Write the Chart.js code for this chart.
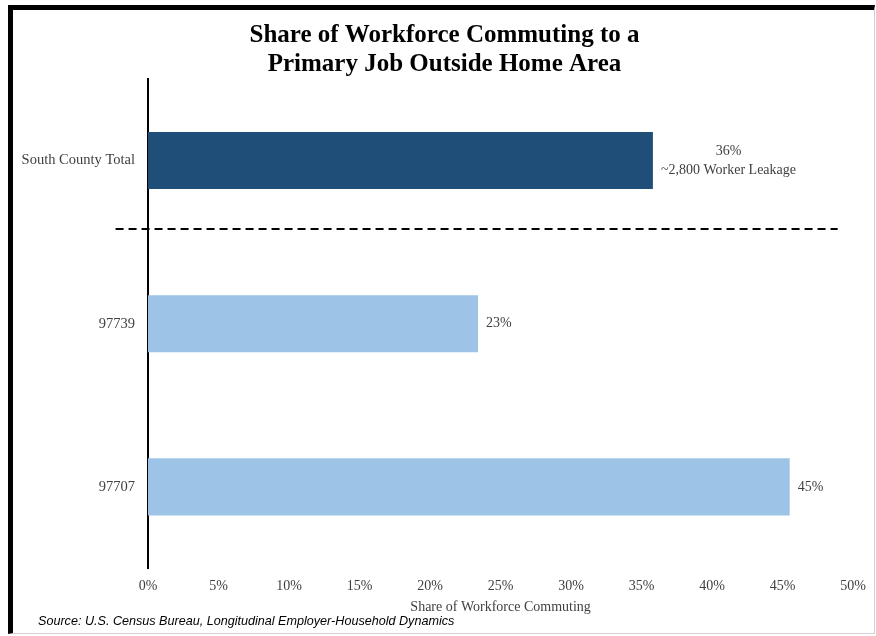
<!DOCTYPE html>
<html>
<head>
<meta charset="utf-8">
<script src="https://cdn.jsdelivr.net/npm/chart.js@4.4.0/dist/chart.umd.min.js"></script>
<style>
  html, body { margin: 0; padding: 0; background: #fff; }
  #wrap { position: relative; width: 876px; height: 636px; overflow: hidden; }
  #frame {
    position: absolute; left: 8px; top: 5px; width: 861px; height: 623px;
    border-top: 5px solid #000; border-left: 5px solid #000;
    border-right: 1px solid #d0d0d0; border-bottom: 1px solid #d0d0d0;
  }
  #chart { position: absolute; left: 0; top: 0; }
  #source {
    position: absolute; left: 38px; top: 614px;
    font: italic 12.6px "Liberation Sans", Arial, sans-serif; color: #000;
  }
</style>
</head>
<body>
<div id="wrap">
  <div id="frame"></div>
  <canvas id="chart" width="876" height="636"></canvas>
  <div id="source">Source: U.S. Census Bureau, Longitudinal Employer-Household Dynamics</div>
</div>
<script>
const categories = ['South County Total', '97739', '97707'];
const shares = [35.8, 23.4, 45.5];
const barLabels = [['36%', '~2,800 Worker Leakage'], ['23%'], ['45%']];
const barColors = ['#1F4E79', '#9DC3E6', '#9DC3E6'];
const dividerAt = 0.42; // category-index position of the dashed divider

const serif = '"Liberation Serif", "Times New Roman", serif';

const barLabelPlugin = {
  id: 'barLabels',
  afterDatasetsDraw(chart) {
    const ctx = chart.ctx;
    const meta = chart.getDatasetMeta(0);
    ctx.save();
    ctx.font = '14px ' + serif;
    ctx.fillStyle = '#404040';
    ctx.textBaseline = 'middle';
    meta.data.forEach((bar, i) => {
      const lines = barLabels[i];
      const w = Math.max(...lines.map(l => ctx.measureText(l).width));
      const cx = bar.x + 8 + w / 2;
      const lh = 19;
      const y0 = bar.y - (lines.length - 1) * lh / 2;
      ctx.textAlign = 'center';
      lines.forEach((l, j) => ctx.fillText(l, cx, y0 + j * lh));
    });
    ctx.restore();
  }
};

const dividerPlugin = {
  id: 'divider',
  afterDatasetsDraw(chart) {
    const ctx = chart.ctx;
    const y = chart.scales.y.getPixelForValue(dividerAt);
    const x1 = chart.scales.x.getPixelForValue(-2.3);
    const x2 = chart.scales.x.getPixelForValue(48.9);
    ctx.save();
    ctx.strokeStyle = '#000';
    ctx.lineWidth = 2;
    ctx.setLineDash([8, 5]);
    ctx.beginPath();
    ctx.moveTo(x1, y);
    ctx.lineTo(x2, y);
    ctx.stroke();
    ctx.restore();
  }
};

new Chart(document.getElementById('chart').getContext('2d'), {
  type: 'bar',
  data: {
    labels: categories,
    datasets: [{
      data: shares,
      backgroundColor: barColors,
      borderWidth: 0,
      barPercentage: 0.35,
      categoryPercentage: 1
    }]
  },
  plugins: [barLabelPlugin, dividerPlugin],
  options: {
    indexAxis: 'y',
    responsive: false,
    animation: false,
    layout: { padding: { left: 13, right: 0, top: 0, bottom: 18 } },
    plugins: {
      legend: { display: false },
      tooltip: { enabled: false },
      title: {
        display: true,
        text: ['Share of Workforce Commuting to a', 'Primary Job Outside Home Area'],
        color: '#000',
        font: { family: serif, size: 25, weight: 'bold', lineHeight: 1.16 },
        padding: { top: 21, bottom: 0 }
      }
    },
    scales: {
      x: {
        min: 0,
        max: 50,
        ticks: {
          stepSize: 5,
          padding: 10,
          color: '#404040',
          font: { family: serif, size: 14 },
          callback: v => v + '%'
        },
        grid: { display: false, drawTicks: false },
        border: { display: false },
        title: {
          display: true,
          text: 'Share of Workforce Commuting',
          color: '#404040',
          font: { family: serif, size: 14 },
          padding: { top: -6, bottom: 2 }
        }
      },
      y: {
        ticks: {
          padding: 13,
          color: '#404040',
          font: { family: serif, size: 14.5 }
        },
        grid: { display: false, drawTicks: false },
        border: { display: true, color: '#000', width: 2 },
        afterFit(scale) { scale.width = 135; }
      },
      // empty spacer on the right so the plot ends where the reference does
      yRight: {
        type: 'category',
        axis: 'y',
        position: 'right',
        ticks: { display: false },
        grid: { display: false, drawTicks: false },
        border: { display: false },
        afterFit(scale) { scale.width = 18; }
      }
    }
  }
});
</script>
</body>
</html>
